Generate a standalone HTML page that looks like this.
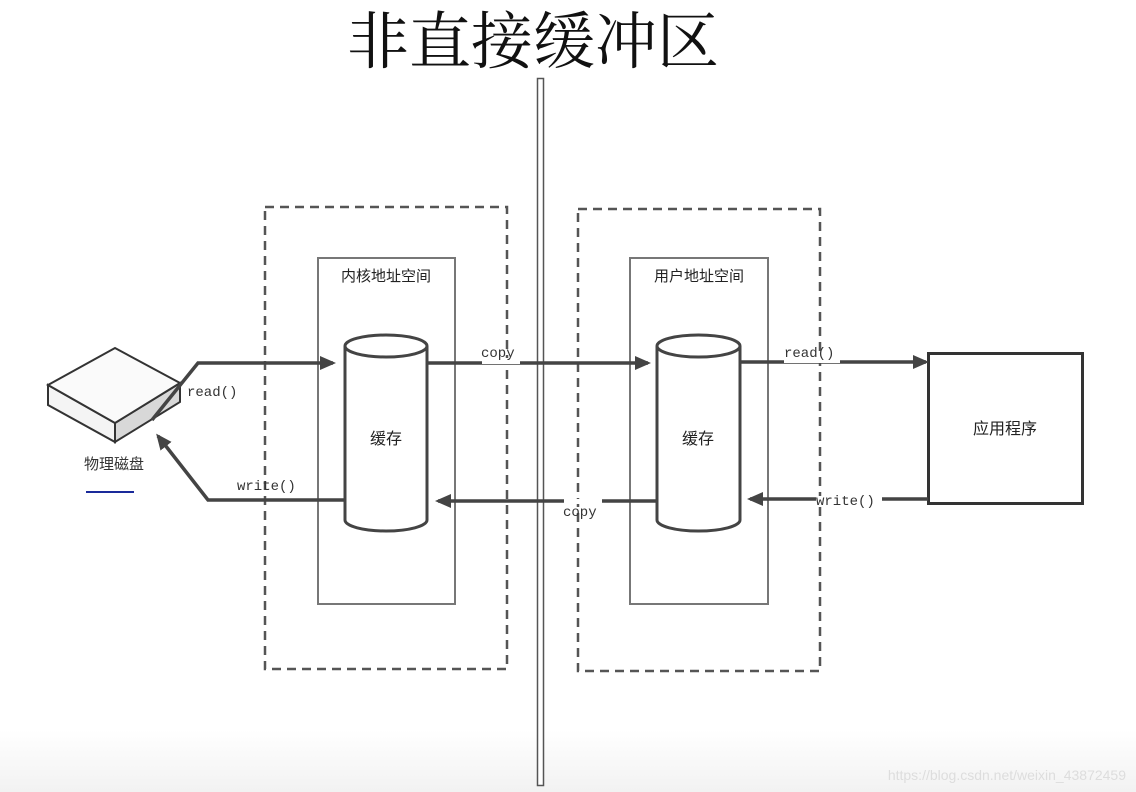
<!DOCTYPE html>
<html><head><meta charset="utf-8"><style>
html,body{margin:0;padding:0;}
body{width:1136px;height:792px;overflow:hidden;background:linear-gradient(#fff 0,#fff 730px,#f2f2f2 792px);}
svg{position:absolute;left:0;top:0}
.t{font-family:"Liberation Serif","Noto Serif CJK SC",serif;}
.c{font-family:"Liberation Sans","Noto Sans CJK SC",sans-serif;}
.m{font-family:"Liberation Mono",monospace;}
</style></head><body>
<svg width="1136" height="792" viewBox="0 0 1136 792">
<defs><marker id="a" markerWidth="16" markerHeight="14" refX="13" refY="7" orient="auto" markerUnits="userSpaceOnUse"><path d="M0,0 L16,7 L0,14 Z" fill="#444"/></marker></defs>
<text x="533" y="63" text-anchor="middle" class="t" font-size="62" fill="#111">非直接缓冲区</text>
<rect x="537.5" y="78.5" width="6" height="707" fill="#fff" stroke="#555" stroke-width="1.5"/>
<g fill="none" stroke="#555" stroke-width="2.5" stroke-dasharray="9,6">
<rect x="265" y="207" width="242" height="462"/>
<rect x="578" y="209" width="242" height="462"/>
</g>
<g fill="none" stroke="#777" stroke-width="2">
<rect x="318" y="258" width="137" height="346"/>
<rect x="630" y="258" width="138" height="346"/>
</g>
<text x="386" y="281" text-anchor="middle" class="c" font-size="15" fill="#222">内核地址空间</text>
<text x="699" y="281" text-anchor="middle" class="c" font-size="15" fill="#222">用户地址空间</text>
<g fill="#fff" stroke="#444" stroke-width="3">
<path d="M345,346 L345,520 A41,11 0 0 0 427,520 L427,346"/>
<ellipse cx="386" cy="346" rx="41" ry="11"/>
<path d="M657,346 L657,520 A41.5,11 0 0 0 740,520 L740,346"/>
<ellipse cx="698.5" cy="346" rx="41.5" ry="11"/>
</g>
<text x="386" y="444" text-anchor="middle" class="c" font-size="16" fill="#222">缓存</text>
<text x="698" y="444" text-anchor="middle" class="c" font-size="16" fill="#222">缓存</text>
<rect x="928.5" y="353.5" width="154" height="150" fill="#fff" stroke="#333" stroke-width="3"/>
<text x="1005" y="434" text-anchor="middle" class="c" font-size="16" fill="#222">应用程序</text>
<path d="M48,385 L115,423 L115,442 L48,405 Z" fill="#f4f4f4" stroke="#333" stroke-width="2"/>
<path d="M115,423 L180,383 L180,402 L115,442 Z" fill="#d8d8d8" stroke="#333" stroke-width="2"/>
<path d="M48,385 L115,348 L180,383 L115,423 Z" fill="#fafafa" stroke="#333" stroke-width="2"/>
<text x="114" y="469" text-anchor="middle" class="c" font-size="15" fill="#333">物理磁盘</text>
<line x1="86" y1="492" x2="134" y2="492" stroke="#1a2a9a" stroke-width="2"/>
<g fill="none" stroke="#444" stroke-width="3.5">
<polyline points="152,420 198,363 333,363" marker-end="url(#a)"/>
<polyline points="345,500 208,500 158,436" marker-end="url(#a)"/>
<line x1="427" y1="363" x2="648" y2="363" marker-end="url(#a)"/>
<line x1="657" y1="501" x2="438" y2="501" marker-end="url(#a)"/>
<line x1="740" y1="362" x2="926" y2="362" marker-end="url(#a)"/>
<line x1="928" y1="499" x2="750" y2="499" marker-end="url(#a)"/>
</g>
<g fill="#fff"><rect x="482" y="358" width="38" height="6"/><rect x="564" y="499" width="38" height="5"/><rect x="784" y="357" width="56" height="6"/><rect x="816" y="496" width="66" height="5"/></g>
<g class="m" font-size="14" fill="#333">
<text x="187" y="396">read()</text>
<text x="237" y="490">write()</text>
<text x="481" y="357">copy</text>
<text x="563" y="516">copy</text>
<text x="784" y="357">read()</text>
<text x="816" y="505">write()</text>
</g>
<text x="1126" y="780" text-anchor="end" class="c" font-size="14" fill="#ddd">https://blog.csdn.net/weixin_43872459</text>
</svg>
</body></html>
